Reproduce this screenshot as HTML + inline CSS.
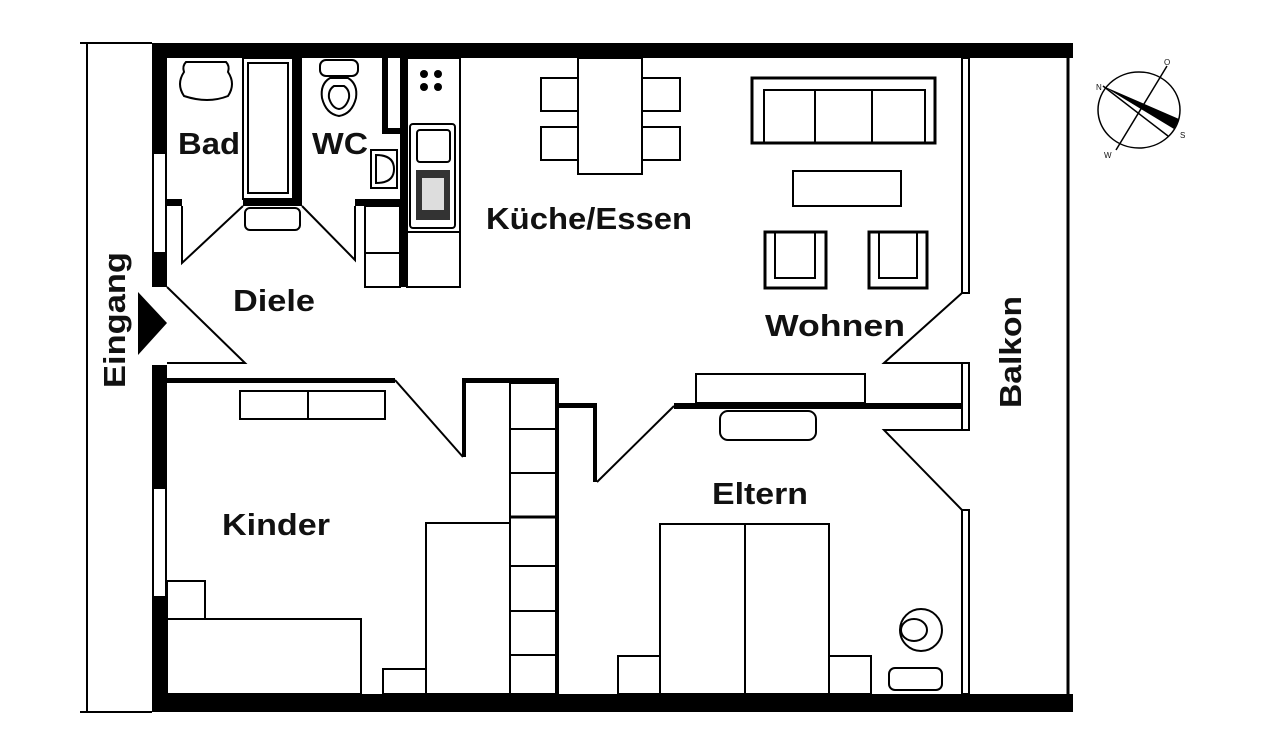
<!DOCTYPE html>
<html><head><meta charset="utf-8"><style>
html,body{margin:0;padding:0;background:#fff;}
svg{display:block}
text{font-family:"Liberation Sans",sans-serif;font-weight:bold;fill:#111;}
</style></head><body>
<svg width="1280" height="752" viewBox="0 0 1280 752" xmlns="http://www.w3.org/2000/svg">
<g fill="#000">
<rect x="152" y="43" width="921" height="15"/>
<rect x="152" y="694" width="921" height="18"/>
<rect x="152" y="43" width="15" height="110"/>
<rect x="152" y="253" width="15" height="34"/>
<rect x="152" y="365" width="15" height="123"/>
<rect x="152" y="597" width="15" height="115"/>
</g>
<g fill="none" stroke="#000" stroke-width="2">
<rect x="153" y="153" width="13" height="100"/>
<rect x="153" y="488" width="13" height="109"/>
<polyline points="80,43 152,43"/>
<line x1="87" y1="43" x2="87" y2="712"/>
<line x1="80" y1="712" x2="152" y2="712"/>
<line x1="1068" y1="58" x2="1068" y2="694" stroke-width="3"/>
<rect x="962" y="58" width="7" height="235"/>
<polyline points="962,293 884,363 969,363"/>
<rect x="962" y="363" width="7" height="67"/>
<polyline points="969,430 884,430 962,510"/>
<rect x="962" y="510" width="7" height="184"/>
</g>
<g fill="#000">
<rect x="293" y="58" width="9" height="148"/>
<rect x="167" y="199" width="15" height="7"/>
<rect x="243" y="199" width="59" height="7"/>
<rect x="355" y="199" width="47" height="7"/>
<rect x="400" y="58" width="7" height="229"/>
<rect x="382" y="58" width="6" height="76"/>
<rect x="382" y="128" width="20" height="6"/>
<rect x="167" y="378" width="228" height="5"/>
<rect x="462" y="378" width="97" height="5"/>
<rect x="462" y="378" width="4" height="79"/>
<rect x="555" y="378" width="4" height="316"/>
<rect x="555" y="403" width="40" height="5"/>
<rect x="593" y="403" width="4" height="79"/>
<rect x="674" y="403" width="288" height="6"/>
<polygon points="138,292 167,323 138,355"/>
</g>
<g fill="none" stroke="#000" stroke-width="2">
<polyline points="167,287 245,363 167,363"/>
<polyline points="182,206 182,263 243,206"/>
<polyline points="355,206 355,260 302,206"/>
<line x1="395" y1="380" x2="463" y2="457"/>
<line x1="597" y1="482" x2="674" y2="406"/>
<rect x="243" y="58" width="50" height="141"/>
<rect x="248" y="63" width="40" height="130"/>
<rect x="245" y="208" width="55" height="22" rx="5"/>
<path d="M186,62 h40 q4,4 2,10 q8,12 0,24 q-20,8 -44,0 q-8,-12 0,-24 q-2,-6 2,-10z"/>
<rect x="320" y="60" width="38" height="16" rx="6"/>
<path d="M330,78 q-10,6 -8,20 q4,16 17,18 q13,-2 17,-18 q2,-14 -8,-20z"/>
<path d="M334,86 q-6,4 -5,12 q3,10 10,11 q7,-1 10,-11 q1,-8 -5,-12z"/>
<path d="M371,150 h26 v38 h-26 z"/>
<path d="M376,155 q18,0 18,14 q0,14 -18,14 z"/>
<rect x="407" y="58" width="53" height="229"/>
<line x1="407" y1="232" x2="460" y2="232"/>
<rect x="410" y="124" width="45" height="104" rx="3"/>
<rect x="417" y="130" width="33" height="32" rx="3"/>
<rect x="365" y="206" width="35" height="81"/>
<line x1="365" y1="253" x2="400" y2="253"/>
<rect x="578" y="58" width="64" height="116"/>
<rect x="541" y="78" width="37" height="33"/>
<rect x="541" y="127" width="37" height="33"/>
<rect x="642" y="78" width="38" height="33"/>
<rect x="642" y="127" width="38" height="33"/>
<rect x="752" y="78" width="183" height="65" stroke-width="3"/>
<rect x="764" y="90" width="161" height="53"/>
<line x1="815" y1="90" x2="815" y2="143"/>
<line x1="872" y1="90" x2="872" y2="143"/>
<rect x="793" y="171" width="108" height="35"/>
<rect x="765" y="232" width="61" height="56" stroke-width="3"/>
<polyline points="775,232 775,278 815,278 815,232"/>
<rect x="869" y="232" width="58" height="56" stroke-width="3"/>
<polyline points="879,232 879,278 917,278 917,232"/>
<rect x="240" y="391" width="145" height="28"/>
<line x1="308" y1="391" x2="308" y2="419"/>
<rect x="167" y="619" width="194" height="75"/>
<rect x="167" y="581" width="38" height="38"/>
<rect x="426" y="523" width="84" height="171"/>
<rect x="383" y="669" width="43" height="25"/>
<rect x="510" y="383" width="47" height="311"/>
<line x1="510" y1="429" x2="557" y2="429"/>
<line x1="510" y1="473" x2="557" y2="473"/>
<line x1="510" y1="517" x2="557" y2="517" stroke-width="3"/>
<line x1="510" y1="566" x2="557" y2="566"/>
<line x1="510" y1="611" x2="557" y2="611"/>
<line x1="510" y1="655" x2="557" y2="655"/>
<rect x="696" y="374" width="169" height="29"/>
<rect x="720" y="411" width="96" height="29" rx="8"/>
<rect x="660" y="524" width="169" height="170"/>
<line x1="745" y1="524" x2="745" y2="694"/>
<rect x="618" y="656" width="42" height="38"/>
<rect x="829" y="656" width="42" height="38"/>
<circle cx="921" cy="630" r="21"/>
<ellipse cx="914" cy="630" rx="13" ry="11"/>
<rect x="889" y="668" width="53" height="22" rx="6"/>
<ellipse cx="1139" cy="110" rx="41" ry="38" stroke-width="1.5"/>
<line x1="1167" y1="66" x2="1116" y2="150" stroke-width="1.5"/>
<line x1="1103" y1="86" x2="1168" y2="136" stroke-width="1.5"/>
</g>
<g fill="#000">
<circle cx="424" cy="74" r="4"/><circle cx="438" cy="74" r="4"/>
<circle cx="424" cy="87" r="4"/><circle cx="438" cy="87" r="4"/>
<rect x="416" y="170" width="34" height="50" fill="#333"/>
<rect x="422" y="178" width="22" height="32" fill="#ddd"/>
<polygon points="1103,86 1179,119 1174,129"/>
</g>
<g font-size="8">
<text x="1096" y="90" style="font-weight:normal">N</text>
<text x="1164" y="65" style="font-weight:normal">O</text>
<text x="1180" y="138" style="font-weight:normal">S</text>
<text x="1104" y="158" style="font-weight:normal">W</text>
</g>
<g font-size="31">
<text x="178" y="154" textLength="62" lengthAdjust="spacingAndGlyphs">Bad</text>
<text x="312" y="154" textLength="56" lengthAdjust="spacingAndGlyphs">WC</text>
<text x="486" y="229" textLength="206" lengthAdjust="spacingAndGlyphs">Küche/Essen</text>
<text x="233" y="311" textLength="82" lengthAdjust="spacingAndGlyphs">Diele</text>
<text x="765" y="336" textLength="140" lengthAdjust="spacingAndGlyphs">Wohnen</text>
<text x="222" y="535" textLength="108" lengthAdjust="spacingAndGlyphs">Kinder</text>
<text x="712" y="504" textLength="96" lengthAdjust="spacingAndGlyphs">Eltern</text>
<text transform="translate(1021,408) rotate(-90)" textLength="112" lengthAdjust="spacingAndGlyphs">Balkon</text>
<text transform="translate(125,388) rotate(-90)" textLength="136" lengthAdjust="spacingAndGlyphs">Eingang</text>
</g>
</svg>
</body></html>
